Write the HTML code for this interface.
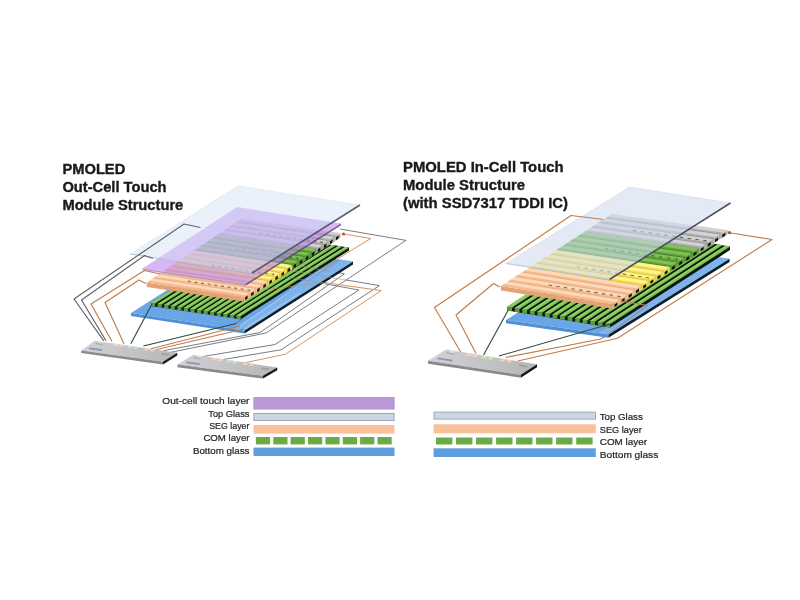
<!DOCTYPE html>
<html><head><meta charset="utf-8"><title>PMOLED touch module structure</title>
<style>
html,body{margin:0;padding:0;background:#fff;}
body{width:800px;height:600px;overflow:hidden;position:relative;font-family:"Liberation Sans",sans-serif;}
svg text{font-family:"Liberation Sans",sans-serif;}
</style></head><body>
<svg width="800" height="600" viewBox="0 0 800 600" style="position:absolute;left:0;top:0">
<defs><filter id="soft" x="0" y="0" width="800" height="600" filterUnits="userSpaceOnUse"><feGaussianBlur stdDeviation="0.45"/></filter><filter id="soft2" x="0" y="0" width="800" height="600" filterUnits="userSpaceOnUse"><feGaussianBlur stdDeviation="0.3"/></filter><linearGradient id="chipg" x1="0" y1="0" x2="1" y2="0"><stop offset="0" stop-color="#d2d2d6"/><stop offset="1" stop-color="#b6b6b8"/></linearGradient></defs>
<g id="leftd" filter="url(#soft)">
<polyline points="169.7,352.5 266.0,333.0 406.0,240.4 340.0,229.0" fill="none" stroke="#7c7c82" stroke-width="1.0" stroke-linejoin="round" stroke-miterlimit="10"/>
<polyline points="164.0,350.6 260.0,332.5 344.4,273.8 330.0,271.3" fill="none" stroke="#7c7c82" stroke-width="1.0" stroke-linejoin="round" />
<polyline points="198.8,357.2 275.0,344.5 358.8,290.0 325.0,283.8" fill="none" stroke="#7c7c82" stroke-width="1.0" stroke-linejoin="round" />
<polyline points="220.3,360.0 281.0,349.8 379.4,285.6 346.2,280.0" fill="none" stroke="#7c7c82" stroke-width="1.0" stroke-linejoin="round" />
<polyline points="240.0,363.8 285.5,354.2 381.2,290.6 323.8,282.5" fill="none" stroke="#d39460" stroke-width="1.0" stroke-linejoin="round" />
<polygon points="131.0,313.0 244.5,330.5 353.0,261.5 239.5,244.0" fill="#6aa6e6" />
<polygon points="131.0,313.0 244.5,330.5 244.5,333.5 131.0,316.0" fill="#4f8fd6" />
<polygon points="244.5,330.5 353.0,261.5 353.0,264.5 244.5,333.5" fill="#0f1a2a" />
<polygon points="233.2,328.8 244.5,330.5 353.0,261.5 341.6,259.8" fill="#8cbcf0" opacity="0.6" />
<polyline points="143.4,346.0 236.0,323.5" fill="none" stroke="#2f4a40" stroke-width="1.15" stroke-linejoin="round" />
<polyline points="236.0,323.5 266.0,299.5" fill="none" stroke="#3d6a7a" stroke-width="0.9" stroke-linejoin="round" opacity="0.8" />
<polyline points="151.0,348.8 240.0,326.0" fill="none" stroke="#c07c49" stroke-width="1.15" stroke-linejoin="round" />
<polyline points="240.0,326.0 322.0,269.5" fill="none" stroke="#b9d2f0" stroke-width="1.0" stroke-linejoin="round" opacity="0.85" />
<polyline points="322.0,269.5 346.0,253.5 370.8,238.5 343.8,234.0" fill="none" stroke="#d39460" stroke-width="1.0" stroke-linejoin="round" />
<polyline points="155.6,349.7 244.0,329.0" fill="none" stroke="#c07c49" stroke-width="1.15" stroke-linejoin="round" />
<polyline points="244.0,329.0 300.0,293.0" fill="none" stroke="#b9d2f0" stroke-width="1.0" stroke-linejoin="round" opacity="0.85" />
<polygon points="151.0,303.0 240.5,316.2 349.0,247.5 259.5,234.2" fill="#11180d" />
<polygon points="151.0,303.0 240.5,316.2 240.5,319.2 151.0,306.0" fill="#11180d" />
<polygon points="240.5,316.2 349.0,247.5 349.0,250.5 240.5,319.2" fill="#11180d" />
<polygon points="151.0,303.0 155.1,303.6 263.6,234.9 259.5,234.2" fill="#7cc353" />
<polygon points="151.0,303.0 153.3,303.3 261.8,234.6 259.5,234.2" fill="#8fd265" />
<polygon points="151.0,303.0 155.1,303.6 155.1,306.6 151.0,306.0" fill="#5b9f3d" />
<polygon points="157.6,304.0 161.7,304.6 270.2,235.8 266.1,235.2" fill="#7cc353" />
<polygon points="157.6,304.0 159.8,304.3 268.3,235.6 266.1,235.2" fill="#8fd265" />
<polygon points="157.6,304.0 161.7,304.6 161.7,307.6 157.6,307.0" fill="#5b9f3d" />
<polygon points="164.1,304.9 168.3,305.6 276.8,236.8 272.6,236.2" fill="#7cc353" />
<polygon points="164.1,304.9 166.4,305.3 274.9,236.5 272.6,236.2" fill="#8fd265" />
<polygon points="164.1,304.9 168.3,305.6 168.3,308.6 164.1,307.9" fill="#5b9f3d" />
<polygon points="170.7,305.9 174.8,306.5 283.3,237.8 279.2,237.2" fill="#7cc353" />
<polygon points="170.7,305.9 173.0,306.3 281.5,237.5 279.2,237.2" fill="#8fd265" />
<polygon points="170.7,305.9 174.8,306.5 174.8,309.5 170.7,308.9" fill="#5b9f3d" />
<polygon points="177.3,306.9 181.4,307.5 289.9,238.8 285.8,238.1" fill="#7cc353" />
<polygon points="177.3,306.9 179.5,307.2 288.0,238.5 285.8,238.1" fill="#8fd265" />
<polygon points="177.3,306.9 181.4,307.5 181.4,310.5 177.3,309.9" fill="#5b9f3d" />
<polygon points="183.8,307.9 188.0,308.5 296.5,239.7 292.3,239.1" fill="#7cc353" />
<polygon points="183.8,307.9 186.1,308.2 294.6,239.4 292.3,239.1" fill="#8fd265" />
<polygon points="183.8,307.9 188.0,308.5 188.0,311.5 183.8,310.9" fill="#5b9f3d" />
<polygon points="190.4,308.8 194.5,309.4 303.0,240.7 298.9,240.1" fill="#7cc353" />
<polygon points="190.4,308.8 192.7,309.2 301.2,240.4 298.9,240.1" fill="#8fd265" />
<polygon points="190.4,308.8 194.5,309.4 194.5,312.4 190.4,311.8" fill="#5b9f3d" />
<polygon points="197.0,309.8 201.1,310.4 309.6,241.7 305.5,241.1" fill="#7cc353" />
<polygon points="197.0,309.8 199.2,310.1 307.7,241.4 305.5,241.1" fill="#8fd265" />
<polygon points="197.0,309.8 201.1,310.4 201.1,313.4 197.0,312.8" fill="#5b9f3d" />
<polygon points="203.5,310.8 207.7,311.4 316.2,242.6 312.0,242.0" fill="#7cc353" />
<polygon points="203.5,310.8 205.8,311.1 314.3,242.4 312.0,242.0" fill="#8fd265" />
<polygon points="203.5,310.8 207.7,311.4 207.7,314.4 203.5,313.8" fill="#5b9f3d" />
<polygon points="210.1,311.7 214.2,312.4 322.7,243.6 318.6,243.0" fill="#7cc353" />
<polygon points="210.1,311.7 212.4,312.1 320.9,243.3 318.6,243.0" fill="#8fd265" />
<polygon points="210.1,311.7 214.2,312.4 214.2,315.4 210.1,314.7" fill="#5b9f3d" />
<polygon points="216.7,312.7 220.8,313.3 329.3,244.6 325.2,244.0" fill="#7cc353" />
<polygon points="216.7,312.7 218.9,313.1 327.4,244.3 325.2,244.0" fill="#8fd265" />
<polygon points="216.7,312.7 220.8,313.3 220.8,316.3 216.7,315.7" fill="#5b9f3d" />
<polygon points="223.2,313.7 227.4,314.3 335.9,245.6 331.7,244.9" fill="#7cc353" />
<polygon points="223.2,313.7 225.5,314.0 334.0,245.3 331.7,244.9" fill="#8fd265" />
<polygon points="223.2,313.7 227.4,314.3 227.4,317.3 223.2,316.7" fill="#5b9f3d" />
<polygon points="229.8,314.7 233.9,315.3 342.4,246.5 338.3,245.9" fill="#7cc353" />
<polygon points="229.8,314.7 232.1,315.0 340.6,246.3 338.3,245.9" fill="#8fd265" />
<polygon points="229.8,314.7 233.9,315.3 233.9,318.3 229.8,317.7" fill="#5b9f3d" />
<polygon points="236.4,315.6 240.5,316.2 349.0,247.5 344.9,246.9" fill="#7cc353" />
<polygon points="236.4,315.6 238.6,316.0 347.1,247.2 344.9,246.9" fill="#8fd265" />
<polygon points="236.4,315.6 240.5,316.2 240.5,319.2 236.4,318.6" fill="#5b9f3d" />
<polygon points="235.6,222.5 334.4,237.0 334.4,241.5 235.6,227.0" fill="#7e7e7e" />
<polygon points="334.4,237.0 340.5,233.0 340.5,237.5 334.4,241.5" fill="#adadad" />
<polygon points="336.0,237.3 338.6,235.6 338.6,238.5 336.0,240.2" fill="#17130f" />
<polygon points="235.6,222.5 334.4,237.0 340.5,233.0 241.5,218.5" fill="#d2d2d2" />
<polygon points="235.6,222.5 334.4,237.0 337.0,235.3 238.1,220.8" fill="#adadad" />
<polygon points="235.6,222.5 334.4,237.0 335.2,236.5 236.3,222.0" fill="#7e7e7e" opacity="0.75" />
<polygon points="229.7,226.5 328.4,241.0 328.4,245.5 229.7,231.0" fill="#7e7e7e" />
<polygon points="328.4,241.0 334.4,237.0 334.4,241.5 328.4,245.5" fill="#adadad" />
<polygon points="330.0,241.3 332.5,239.6 332.5,242.5 330.0,244.2" fill="#17130f" />
<polygon points="229.7,226.5 328.4,241.0 334.4,237.0 235.6,222.5" fill="#d2d2d2" />
<polygon points="229.7,226.5 328.4,241.0 330.9,239.3 232.1,224.8" fill="#adadad" />
<polygon points="229.7,226.5 328.4,241.0 329.1,240.5 230.4,226.0" fill="#7e7e7e" opacity="0.75" />
<polygon points="223.7,230.5 322.3,245.0 322.3,249.5 223.7,235.0" fill="#7e7e7e" />
<polygon points="322.3,245.0 328.4,241.0 328.4,245.5 322.3,249.5" fill="#adadad" />
<polygon points="323.9,245.3 326.4,243.6 326.4,246.5 323.9,248.2" fill="#17130f" />
<polygon points="223.7,230.5 322.3,245.0 328.4,241.0 229.7,226.5" fill="#d2d2d2" />
<polygon points="223.7,230.5 322.3,245.0 324.9,243.3 226.2,228.8" fill="#adadad" />
<polygon points="223.7,230.5 322.3,245.0 323.0,244.5 224.4,230.0" fill="#7e7e7e" opacity="0.75" />
<polyline points="259.5,233.1 262.5,233.5" fill="none" stroke="#2e3a2a" stroke-width="1.1" stroke-linejoin="round" opacity="0.7" />
<polyline points="266.3,234.1 269.2,234.5" fill="none" stroke="#2e3a2a" stroke-width="1.1" stroke-linejoin="round" opacity="0.7" />
<polyline points="273.0,235.1 275.9,235.5" fill="none" stroke="#2e3a2a" stroke-width="1.1" stroke-linejoin="round" opacity="0.7" />
<polyline points="279.7,236.0 282.6,236.5" fill="none" stroke="#2e3a2a" stroke-width="1.1" stroke-linejoin="round" opacity="0.7" />
<polyline points="286.4,237.0 289.3,237.5" fill="none" stroke="#2e3a2a" stroke-width="1.1" stroke-linejoin="round" opacity="0.7" />
<polyline points="293.1,238.0 296.1,238.4" fill="none" stroke="#2e3a2a" stroke-width="1.1" stroke-linejoin="round" opacity="0.7" />
<polyline points="299.8,239.0 302.8,239.4" fill="none" stroke="#2e3a2a" stroke-width="1.1" stroke-linejoin="round" opacity="0.7" />
<polyline points="306.5,240.0 309.5,240.4" fill="none" stroke="#2e3a2a" stroke-width="1.1" stroke-linejoin="round" opacity="0.7" />
<polyline points="313.2,241.0 316.2,241.4" fill="none" stroke="#2e3a2a" stroke-width="1.1" stroke-linejoin="round" opacity="0.7" />
<polyline points="319.9,242.0 322.9,242.4" fill="none" stroke="#2e3a2a" stroke-width="1.1" stroke-linejoin="round" opacity="0.7" />
<polygon points="217.8,234.5 316.2,249.0 316.2,253.5 217.8,239.0" fill="#7e7e7e" />
<polygon points="316.2,249.0 322.3,245.0 322.3,249.5 316.2,253.5" fill="#adadad" />
<polygon points="317.8,249.3 320.4,247.6 320.4,250.5 317.8,252.2" fill="#17130f" />
<polygon points="217.8,234.5 316.2,249.0 322.3,245.0 223.7,230.5" fill="#d2d2d2" />
<polygon points="217.8,234.5 316.2,249.0 318.8,247.3 220.3,232.8" fill="#adadad" />
<polygon points="217.8,234.5 316.2,249.0 317.0,248.5 218.5,234.0" fill="#7e7e7e" opacity="0.75" />
<polygon points="211.9,238.5 310.2,253.0 310.2,257.5 211.9,243.0" fill="#3c6e28" />
<polygon points="310.2,253.0 316.2,249.0 316.2,253.5 310.2,257.5" fill="#5c9d3d" />
<polygon points="311.8,253.3 314.3,251.6 314.3,254.5 311.8,256.2" fill="#17130f" />
<polygon points="211.9,238.5 310.2,253.0 316.2,249.0 217.8,234.5" fill="#7fc253" />
<polygon points="211.9,238.5 310.2,253.0 312.7,251.3 214.4,236.8" fill="#5c9d3d" />
<polygon points="211.9,238.5 310.2,253.0 310.9,252.5 212.6,238.0" fill="#3c6e28" opacity="0.75" />
<polygon points="206.0,242.5 304.1,257.0 304.1,261.5 206.0,247.0" fill="#3c6e28" />
<polygon points="304.1,257.0 310.2,253.0 310.2,257.5 304.1,261.5" fill="#5c9d3d" />
<polygon points="305.7,257.3 308.2,255.6 308.2,258.5 305.7,260.2" fill="#17130f" />
<polygon points="206.0,242.5 304.1,257.0 310.2,253.0 211.9,238.5" fill="#7fc253" />
<polygon points="206.0,242.5 304.1,257.0 306.7,255.3 208.5,240.8" fill="#5c9d3d" />
<polygon points="206.0,242.5 304.1,257.0 304.9,256.5 206.7,242.0" fill="#3c6e28" opacity="0.75" />
<polygon points="200.0,246.5 298.1,261.0 298.1,265.5 200.0,251.0" fill="#3c6e28" />
<polygon points="298.1,261.0 304.1,257.0 304.1,261.5 298.1,265.5" fill="#5c9d3d" />
<polygon points="299.6,261.3 302.2,259.6 302.2,262.5 299.6,264.2" fill="#17130f" />
<polygon points="200.0,246.5 298.1,261.0 304.1,257.0 206.0,242.5" fill="#7fc253" />
<polygon points="200.0,246.5 298.1,261.0 300.6,259.3 202.5,244.8" fill="#5c9d3d" />
<polygon points="200.0,246.5 298.1,261.0 298.8,260.5 200.8,246.0" fill="#3c6e28" opacity="0.75" />
<polyline points="235.7,249.1 238.6,249.5" fill="none" stroke="#2e3a2a" stroke-width="1.1" stroke-linejoin="round" opacity="0.7" />
<polyline points="242.3,250.1 245.3,250.5" fill="none" stroke="#2e3a2a" stroke-width="1.1" stroke-linejoin="round" opacity="0.7" />
<polyline points="249.0,251.1 252.0,251.5" fill="none" stroke="#2e3a2a" stroke-width="1.1" stroke-linejoin="round" opacity="0.7" />
<polyline points="255.7,252.0 258.6,252.5" fill="none" stroke="#2e3a2a" stroke-width="1.1" stroke-linejoin="round" opacity="0.7" />
<polyline points="262.4,253.0 265.3,253.5" fill="none" stroke="#2e3a2a" stroke-width="1.1" stroke-linejoin="round" opacity="0.7" />
<polyline points="269.0,254.0 272.0,254.4" fill="none" stroke="#2e3a2a" stroke-width="1.1" stroke-linejoin="round" opacity="0.7" />
<polyline points="275.7,255.0 278.6,255.4" fill="none" stroke="#2e3a2a" stroke-width="1.1" stroke-linejoin="round" opacity="0.7" />
<polyline points="282.4,256.0 285.3,256.4" fill="none" stroke="#2e3a2a" stroke-width="1.1" stroke-linejoin="round" opacity="0.7" />
<polyline points="289.0,257.0 292.0,257.4" fill="none" stroke="#2e3a2a" stroke-width="1.1" stroke-linejoin="round" opacity="0.7" />
<polyline points="295.7,258.0 298.7,258.4" fill="none" stroke="#2e3a2a" stroke-width="1.1" stroke-linejoin="round" opacity="0.7" />
<polygon points="194.1,250.5 292.0,265.0 292.0,269.5 194.1,255.0" fill="#3c6e28" />
<polygon points="292.0,265.0 298.1,261.0 298.1,265.5 292.0,269.5" fill="#5c9d3d" />
<polygon points="293.6,265.3 296.1,263.6 296.1,266.5 293.6,268.2" fill="#17130f" />
<polygon points="194.1,250.5 292.0,265.0 298.1,261.0 200.0,246.5" fill="#7fc253" />
<polygon points="194.1,250.5 292.0,265.0 294.5,263.3 196.6,248.8" fill="#5c9d3d" />
<polygon points="194.1,250.5 292.0,265.0 292.7,264.5 194.8,250.0" fill="#3c6e28" opacity="0.75" />
<polygon points="188.2,254.5 285.9,269.0 285.9,273.5 188.2,259.0" fill="#c4aa36" />
<polygon points="285.9,269.0 292.0,265.0 292.0,269.5 285.9,273.5" fill="#f3d94e" />
<polygon points="287.5,269.3 290.1,267.6 290.1,270.5 287.5,272.2" fill="#17130f" />
<polygon points="188.2,254.5 285.9,269.0 292.0,265.0 194.1,250.5" fill="#fff48e" />
<polygon points="188.2,254.5 285.9,269.0 288.5,267.3 190.7,252.8" fill="#f3d94e" />
<polygon points="188.2,254.5 285.9,269.0 286.7,268.5 188.9,254.0" fill="#c4aa36" opacity="0.75" />
<polygon points="182.3,258.5 279.9,273.0 279.9,277.5 182.3,263.0" fill="#c4aa36" />
<polygon points="279.9,273.0 285.9,269.0 285.9,273.5 279.9,277.5" fill="#f3d94e" />
<polygon points="281.5,273.3 284.0,271.6 284.0,274.5 281.5,276.2" fill="#17130f" />
<polygon points="182.3,258.5 279.9,273.0 285.9,269.0 188.2,254.5" fill="#fff48e" />
<polygon points="182.3,258.5 279.9,273.0 282.4,271.3 184.8,256.8" fill="#f3d94e" />
<polygon points="182.3,258.5 279.9,273.0 280.6,272.5 183.0,258.0" fill="#c4aa36" opacity="0.75" />
<polygon points="176.4,262.5 273.8,277.0 273.8,281.5 176.4,267.0" fill="#c4aa36" />
<polygon points="273.8,277.0 279.9,273.0 279.9,277.5 273.8,281.5" fill="#f3d94e" />
<polygon points="275.4,277.3 277.9,275.6 277.9,278.5 275.4,280.2" fill="#17130f" />
<polygon points="176.4,262.5 273.8,277.0 279.9,273.0 182.3,258.5" fill="#fff48e" />
<polygon points="176.4,262.5 273.8,277.0 276.4,275.3 178.8,260.8" fill="#f3d94e" />
<polygon points="176.4,262.5 273.8,277.0 274.5,276.5 177.1,262.0" fill="#c4aa36" opacity="0.75" />
<polyline points="211.8,265.1 214.7,265.5" fill="none" stroke="#4a3a22" stroke-width="1.1" stroke-linejoin="round" opacity="0.7" />
<polyline points="218.4,266.1 221.4,266.5" fill="none" stroke="#4a3a22" stroke-width="1.1" stroke-linejoin="round" opacity="0.7" />
<polyline points="225.1,267.1 228.0,267.5" fill="none" stroke="#4a3a22" stroke-width="1.1" stroke-linejoin="round" opacity="0.7" />
<polyline points="231.7,268.0 234.6,268.5" fill="none" stroke="#4a3a22" stroke-width="1.1" stroke-linejoin="round" opacity="0.7" />
<polyline points="238.3,269.0 241.3,269.5" fill="none" stroke="#4a3a22" stroke-width="1.1" stroke-linejoin="round" opacity="0.7" />
<polyline points="245.0,270.0 247.9,270.4" fill="none" stroke="#4a3a22" stroke-width="1.1" stroke-linejoin="round" opacity="0.7" />
<polyline points="251.6,271.0 254.5,271.4" fill="none" stroke="#4a3a22" stroke-width="1.1" stroke-linejoin="round" opacity="0.7" />
<polyline points="258.2,272.0 261.2,272.4" fill="none" stroke="#4a3a22" stroke-width="1.1" stroke-linejoin="round" opacity="0.7" />
<polyline points="264.9,273.0 267.8,273.4" fill="none" stroke="#4a3a22" stroke-width="1.1" stroke-linejoin="round" opacity="0.7" />
<polyline points="271.5,274.0 274.4,274.4" fill="none" stroke="#4a3a22" stroke-width="1.1" stroke-linejoin="round" opacity="0.7" />
<polygon points="170.4,266.5 267.8,281.0 267.8,285.5 170.4,271.0" fill="#c4aa36" />
<polygon points="267.8,281.0 273.8,277.0 273.8,281.5 267.8,285.5" fill="#f3d94e" />
<polygon points="269.3,281.3 271.9,279.6 271.9,282.5 269.3,284.2" fill="#17130f" />
<polygon points="170.4,266.5 267.8,281.0 273.8,277.0 176.4,262.5" fill="#fff48e" />
<polygon points="170.4,266.5 267.8,281.0 270.3,279.3 172.9,264.8" fill="#f3d94e" />
<polygon points="170.4,266.5 267.8,281.0 268.5,280.5 171.1,266.0" fill="#c4aa36" opacity="0.75" />
<polygon points="164.5,270.5 261.7,285.0 261.7,289.5 164.5,275.0" fill="#e4a274" />
<polygon points="261.7,285.0 267.8,281.0 267.8,285.5 261.7,289.5" fill="#f4b98c" />
<polygon points="263.3,285.3 265.8,283.6 265.8,286.5 263.3,288.2" fill="#17130f" />
<polygon points="164.5,270.5 261.7,285.0 267.8,281.0 170.4,266.5" fill="#fdd9ba" />
<polygon points="164.5,270.5 261.7,285.0 264.2,283.3 167.0,268.8" fill="#f4b98c" />
<polygon points="164.5,270.5 261.7,285.0 262.4,284.5 165.2,270.0" fill="#e4a274" opacity="0.75" />
<polygon points="158.6,274.5 255.6,289.0 255.6,293.5 158.6,279.0" fill="#e4a274" />
<polygon points="255.6,289.0 261.7,285.0 261.7,289.5 255.6,293.5" fill="#f4b98c" />
<polygon points="257.2,289.3 259.7,287.6 259.7,290.5 257.2,292.2" fill="#17130f" />
<polygon points="158.6,274.5 255.6,289.0 261.7,285.0 164.5,270.5" fill="#fdd9ba" />
<polygon points="158.6,274.5 255.6,289.0 258.2,287.3 161.1,272.8" fill="#f4b98c" />
<polygon points="158.6,274.5 255.6,289.0 256.4,288.5 159.3,274.0" fill="#e4a274" opacity="0.75" />
<polygon points="152.7,278.5 249.6,293.0 249.6,297.5 152.7,283.0" fill="#e4a274" />
<polygon points="249.6,293.0 255.6,289.0 255.6,293.5 249.6,297.5" fill="#f4b98c" />
<polygon points="251.1,293.3 253.7,291.6 253.7,294.5 251.1,296.2" fill="#17130f" />
<polygon points="152.7,278.5 249.6,293.0 255.6,289.0 158.6,274.5" fill="#fdd9ba" />
<polygon points="152.7,278.5 249.6,293.0 252.1,291.3 155.2,276.8" fill="#f4b98c" />
<polygon points="152.7,278.5 249.6,293.0 250.3,292.5 153.4,278.0" fill="#e4a274" opacity="0.75" />
<polyline points="187.9,281.1 190.8,281.5" fill="none" stroke="#4a3a22" stroke-width="1.1" stroke-linejoin="round" opacity="0.7" />
<polyline points="194.5,282.1 197.4,282.5" fill="none" stroke="#4a3a22" stroke-width="1.1" stroke-linejoin="round" opacity="0.7" />
<polyline points="201.1,283.1 204.0,283.5" fill="none" stroke="#4a3a22" stroke-width="1.1" stroke-linejoin="round" opacity="0.7" />
<polyline points="207.7,284.0 210.6,284.5" fill="none" stroke="#4a3a22" stroke-width="1.1" stroke-linejoin="round" opacity="0.7" />
<polyline points="214.3,285.0 217.2,285.5" fill="none" stroke="#4a3a22" stroke-width="1.1" stroke-linejoin="round" opacity="0.7" />
<polyline points="220.9,286.0 223.8,286.4" fill="none" stroke="#4a3a22" stroke-width="1.1" stroke-linejoin="round" opacity="0.7" />
<polyline points="227.5,287.0 230.4,287.4" fill="none" stroke="#4a3a22" stroke-width="1.1" stroke-linejoin="round" opacity="0.7" />
<polyline points="234.1,288.0 237.0,288.4" fill="none" stroke="#4a3a22" stroke-width="1.1" stroke-linejoin="round" opacity="0.7" />
<polyline points="240.7,289.0 243.6,289.4" fill="none" stroke="#4a3a22" stroke-width="1.1" stroke-linejoin="round" opacity="0.7" />
<polyline points="247.3,290.0 250.2,290.4" fill="none" stroke="#4a3a22" stroke-width="1.1" stroke-linejoin="round" opacity="0.7" />
<polygon points="146.8,282.5 243.5,297.0 243.5,301.5 146.8,287.0" fill="#e4a274" />
<polygon points="243.5,297.0 249.6,293.0 249.6,297.5 243.5,301.5" fill="#f4b98c" />
<polygon points="245.1,297.3 247.6,295.6 247.6,298.5 245.1,300.2" fill="#17130f" />
<polygon points="146.8,282.5 243.5,297.0 249.6,293.0 152.7,278.5" fill="#fdd9ba" />
<polygon points="146.8,282.5 243.5,297.0 246.0,295.3 149.2,280.8" fill="#f4b98c" />
<circle cx="343.5" cy="234" r="1.6" fill="#b4542a"/>
<polyline points="325.0,283.8 282.0,275.8" fill="none" stroke="#9a8f86" stroke-width="0.8" stroke-linejoin="round" opacity="0.7" />
<polyline points="346.2,280.0 290.0,270.5" fill="none" stroke="#9a8f86" stroke-width="0.8" stroke-linejoin="round" opacity="0.7" />
<polyline points="323.8,282.5 262.0,290.0" fill="none" stroke="#c98a55" stroke-width="0.8" stroke-linejoin="round" opacity="0.7" />
<polyline points="330.0,271.3 300.0,266.0" fill="none" stroke="#9a8f86" stroke-width="0.8" stroke-linejoin="round" opacity="0.7" />
<polygon points="142.5,268.5 245.5,284.0 341.0,223.5 237.0,207.0" fill="#b981ec" opacity="0.58" />
<polygon points="142.5,268.5 245.5,284.0 245.5,285.6 142.5,270.1" fill="#a57fc8" opacity="0.8" />
<polygon points="245.5,284.0 341.0,223.5 341.0,225.2 245.5,285.8" fill="#5a4670" opacity="0.9" />
<polygon points="130.0,254.0 252.0,273.0 360.0,205.0 238.0,186.0" fill="#d3e0f5" stroke="#a9b4cc" stroke-width="0.5" opacity="0.46" />
<polyline points="252.0,273.0 360.0,205.0" fill="none" stroke="#4a4f66" stroke-width="1.6" stroke-linejoin="round" opacity="0.9" />
<polyline points="130.0,254.0 252.0,273.0" fill="none" stroke="#b9c2d8" stroke-width="1.0" stroke-linejoin="round" opacity="0.9" />
<polyline points="200.5,227.5 184.0,224.0 74.0,299.0 103.8,340.8" fill="none" stroke="#606168" stroke-width="1.15" stroke-linejoin="round" />
<polyline points="153.0,258.5 144.5,255.5 81.5,300.0 106.0,340.8" fill="none" stroke="#606168" stroke-width="1.15" stroke-linejoin="round" />
<polyline points="160.0,274.0 144.5,270.5 91.0,304.0 112.0,341.5" fill="none" stroke="#c07c49" stroke-width="1.15" stroke-linejoin="round" />
<polyline points="146.0,283.5 139.0,280.0 105.0,302.5 124.0,343.8" fill="none" stroke="#c07c49" stroke-width="1.15" stroke-linejoin="round" />
<polyline points="152.0,304.0 130.8,343.8" fill="none" stroke="#2f4a40" stroke-width="1.15" stroke-linejoin="round" />
<polygon points="94.8,340.8 81.2,350.5 163.0,361.8 177.2,352.8" fill="url(#chipg)" />
<polygon points="81.2,350.5 163.0,361.8 163.0,364.4 81.2,353.1" fill="#8a8a8c" />
<polygon points="163.0,361.8 177.2,352.8 177.2,355.4 163.0,364.4" fill="#161616" />
<polygon points="99.7,341.5 103.4,342.0 100.7,344.0 97.0,343.4" fill="#dfe9dc" />
<polygon points="115.4,343.8 119.1,344.3 116.4,346.2 112.7,345.7" fill="#f3d6bf" />
<polygon points="121.2,344.6 124.9,345.1 122.2,347.1 118.5,346.5" fill="#f3d6bf" />
<polygon points="129.4,345.8 133.1,346.3 130.4,348.3 126.7,347.7" fill="#c4ecb6" />
<polygon points="135.2,346.6 138.9,347.2 136.2,349.1 132.5,348.6" fill="#c4ecb6" />
<polygon points="145.9,348.2 149.6,348.7 146.9,350.7 143.2,350.1" fill="#f3d6bf" />
<polygon points="151.7,349.0 155.4,349.6 152.7,351.5 149.0,351.0" fill="#f3d6bf" />
<polyline points="89.1,348.3 102.2,350.2" fill="none" stroke="#6f86a8" stroke-width="1.7" stroke-linejoin="round" opacity="0.75" />
<polyline points="161.5,353.8 168.9,354.9" fill="none" stroke="#8a9a8c" stroke-width="1.6" stroke-linejoin="round" opacity="0.7" />
<polyline points="95.9,343.5 102.5,344.4" fill="none" stroke="#8a9a8c" stroke-width="1.6" stroke-linejoin="round" opacity="0.6" />
<polygon points="193.2,354.8 177.5,364.5 263.0,375.8 277.2,367.5" fill="url(#chipg)" />
<polygon points="177.5,364.5 263.0,375.8 263.0,378.6 177.5,367.3" fill="#8a8a8c" />
<polygon points="263.0,375.8 277.2,367.5 277.2,370.3 263.0,378.6" fill="#161616" />
<polygon points="198.3,355.5 202.1,356.1 198.9,358.0 195.1,357.5" fill="#dfe9dc" />
<polygon points="214.2,357.9 218.0,358.5 214.9,360.5 211.1,359.9" fill="#f3d6bf" />
<polygon points="220.1,358.8 223.9,359.4 220.8,361.4 217.0,360.8" fill="#f3d6bf" />
<polygon points="228.5,360.1 232.3,360.7 229.2,362.6 225.4,362.1" fill="#c4ecb6" />
<polygon points="234.4,361.0 238.2,361.6 235.0,363.5 231.3,362.9" fill="#c4ecb6" />
<polygon points="245.3,362.7 249.1,363.2 246.0,365.2 242.2,364.6" fill="#f3d6bf" />
<polygon points="251.2,363.5 255.0,364.1 251.8,366.1 248.1,365.5" fill="#f3d6bf" />
<polyline points="186.2,362.4 199.8,364.2" fill="none" stroke="#6f86a8" stroke-width="1.7" stroke-linejoin="round" opacity="0.75" />
<polyline points="261.2,368.3 268.8,369.4" fill="none" stroke="#8a9a8c" stroke-width="1.6" stroke-linejoin="round" opacity="0.7" />
<polyline points="194.0,357.5 200.7,358.5" fill="none" stroke="#8a9a8c" stroke-width="1.6" stroke-linejoin="round" opacity="0.6" />
</g>
<g id="rightd" filter="url(#soft)">
<polyline points="517.8,361.0 617.5,338.2 772.0,239.5 728.0,232.5" fill="none" stroke="#c07c49" stroke-width="1.15" stroke-linejoin="round" />
<polyline points="505.5,357.5 601.0,339.0 608.0,334.5" fill="none" stroke="#c07c49" stroke-width="1.15" stroke-linejoin="round" />
<polygon points="506.0,320.0 608.5,334.5 729.5,258.7 627.0,244.2" fill="#6aa6e6" />
<polygon points="506.0,320.0 608.5,334.5 608.5,337.8 506.0,323.3" fill="#4f8fd6" />
<polygon points="608.5,334.5 729.5,258.7 729.5,262.0 608.5,337.8" fill="#0f1a2a" />
<polygon points="598.2,333.1 608.5,334.5 729.5,258.7 719.2,257.2" fill="#8cbcf0" opacity="0.6" />
<polygon points="507.2,306.8 610.0,324.0 730.0,246.5 627.2,229.3" fill="#11180d" />
<polygon points="507.2,306.8 610.0,324.0 610.0,327.6 507.2,310.4" fill="#11180d" />
<polygon points="610.0,324.0 730.0,246.5 730.0,250.1 610.0,327.6" fill="#11180d" />
<polygon points="507.2,306.8 512.0,307.6 632.0,230.1 627.2,229.3" fill="#7cc353" />
<polygon points="507.2,306.8 509.9,307.2 629.9,229.7 627.2,229.3" fill="#8fd265" />
<polygon points="507.2,306.8 512.0,307.6 512.0,311.2 507.2,310.4" fill="#5b9f3d" />
<polygon points="514.8,308.1 519.5,308.9 639.5,231.4 634.8,230.6" fill="#7cc353" />
<polygon points="514.8,308.1 517.4,308.5 637.4,231.0 634.8,230.6" fill="#8fd265" />
<polygon points="514.8,308.1 519.5,308.9 519.5,312.5 514.8,311.7" fill="#5b9f3d" />
<polygon points="522.3,309.3 527.1,310.1 647.1,232.6 642.3,231.8" fill="#7cc353" />
<polygon points="522.3,309.3 524.9,309.8 644.9,232.3 642.3,231.8" fill="#8fd265" />
<polygon points="522.3,309.3 527.1,310.1 527.1,313.7 522.3,312.9" fill="#5b9f3d" />
<polygon points="529.9,310.6 534.6,311.4 654.6,233.9 649.9,233.1" fill="#7cc353" />
<polygon points="529.9,310.6 532.5,311.0 652.5,233.5 649.9,233.1" fill="#8fd265" />
<polygon points="529.9,310.6 534.6,311.4 534.6,315.0 529.9,314.2" fill="#5b9f3d" />
<polygon points="537.4,311.8 542.2,312.6 662.2,235.1 657.4,234.3" fill="#7cc353" />
<polygon points="537.4,311.8 540.0,312.3 660.0,234.8 657.4,234.3" fill="#8fd265" />
<polygon points="537.4,311.8 542.2,312.6 542.2,316.2 537.4,315.4" fill="#5b9f3d" />
<polygon points="544.9,313.1 549.7,313.9 669.7,236.4 664.9,235.6" fill="#7cc353" />
<polygon points="544.9,313.1 547.6,313.5 667.6,236.0 664.9,235.6" fill="#8fd265" />
<polygon points="544.9,313.1 549.7,313.9 549.7,317.5 544.9,316.7" fill="#5b9f3d" />
<polygon points="552.5,314.4 557.2,315.2 677.2,237.7 672.5,236.9" fill="#7cc353" />
<polygon points="552.5,314.4 555.1,314.8 675.1,237.3 672.5,236.9" fill="#8fd265" />
<polygon points="552.5,314.4 557.2,315.2 557.2,318.8 552.5,318.0" fill="#5b9f3d" />
<polygon points="560.0,315.6 564.8,316.4 684.8,238.9 680.0,238.1" fill="#7cc353" />
<polygon points="560.0,315.6 562.6,316.1 682.6,238.6 680.0,238.1" fill="#8fd265" />
<polygon points="560.0,315.6 564.8,316.4 564.8,320.0 560.0,319.2" fill="#5b9f3d" />
<polygon points="567.6,316.9 572.3,317.7 692.3,240.2 687.6,239.4" fill="#7cc353" />
<polygon points="567.6,316.9 570.2,317.3 690.2,239.8 687.6,239.4" fill="#8fd265" />
<polygon points="567.6,316.9 572.3,317.7 572.3,321.3 567.6,320.5" fill="#5b9f3d" />
<polygon points="575.1,318.2 579.8,319.0 699.8,241.5 695.1,240.7" fill="#7cc353" />
<polygon points="575.1,318.2 577.7,318.6 697.7,241.1 695.1,240.7" fill="#8fd265" />
<polygon points="575.1,318.2 579.8,319.0 579.8,322.6 575.1,321.8" fill="#5b9f3d" />
<polygon points="582.6,319.4 587.4,320.2 707.4,242.7 702.6,241.9" fill="#7cc353" />
<polygon points="582.6,319.4 585.2,319.9 705.2,242.4 702.6,241.9" fill="#8fd265" />
<polygon points="582.6,319.4 587.4,320.2 587.4,323.8 582.6,323.0" fill="#5b9f3d" />
<polygon points="590.2,320.7 594.9,321.5 714.9,244.0 710.2,243.2" fill="#7cc353" />
<polygon points="590.2,320.7 592.8,321.1 712.8,243.6 710.2,243.2" fill="#8fd265" />
<polygon points="590.2,320.7 594.9,321.5 594.9,325.1 590.2,324.3" fill="#5b9f3d" />
<polygon points="597.7,321.9 602.5,322.7 722.5,245.2 717.7,244.4" fill="#7cc353" />
<polygon points="597.7,321.9 600.3,322.4 720.3,244.9 717.7,244.4" fill="#8fd265" />
<polygon points="597.7,321.9 602.5,322.7 602.5,326.3 597.7,325.5" fill="#5b9f3d" />
<polygon points="605.3,323.2 610.0,324.0 730.0,246.5 725.3,245.7" fill="#7cc353" />
<polygon points="605.3,323.2 607.9,323.6 727.9,246.1 725.3,245.7" fill="#8fd265" />
<polygon points="605.3,323.2 610.0,324.0 610.0,327.6 605.3,326.8" fill="#5b9f3d" />
<polygon points="605.1,218.5 720.3,234.6 720.3,239.1 605.1,223.0" fill="#7e7e7e" />
<polygon points="720.3,234.6 727.5,230.0 727.5,234.5 720.3,239.1" fill="#adadad" />
<polygon points="722.2,234.7 725.2,232.8 725.2,235.7 722.2,237.6" fill="#17130f" />
<polygon points="605.1,218.5 720.3,234.6 727.5,230.0 612.0,214.0" fill="#d2d2d2" />
<polygon points="605.1,218.5 720.3,234.6 723.3,232.7 608.0,216.6" fill="#adadad" />
<polygon points="605.1,218.5 720.3,234.6 721.2,234.1 605.9,218.0" fill="#7e7e7e" opacity="0.75" />
<polygon points="598.1,223.0 713.1,239.3 713.1,243.8 598.1,227.5" fill="#7e7e7e" />
<polygon points="713.1,239.3 720.3,234.6 720.3,239.1 713.1,243.8" fill="#adadad" />
<polygon points="715.0,239.4 718.0,237.4 718.0,240.3 715.0,242.3" fill="#17130f" />
<polygon points="598.1,223.0 713.1,239.3 720.3,234.6 605.1,218.5" fill="#d2d2d2" />
<polygon points="598.1,223.0 713.1,239.3 716.1,237.3 601.0,221.1" fill="#adadad" />
<polygon points="598.1,223.0 713.1,239.3 714.0,238.7 599.0,222.5" fill="#7e7e7e" opacity="0.75" />
<polygon points="591.2,227.5 705.9,243.9 705.9,248.4 591.2,232.0" fill="#7e7e7e" />
<polygon points="705.9,243.9 713.1,239.3 713.1,243.8 705.9,248.4" fill="#adadad" />
<polygon points="707.8,244.0 710.8,242.1 710.8,245.0 707.8,246.9" fill="#17130f" />
<polygon points="591.2,227.5 705.9,243.9 713.1,239.3 598.1,223.0" fill="#d2d2d2" />
<polygon points="591.2,227.5 705.9,243.9 709.0,242.0 594.1,225.6" fill="#adadad" />
<polygon points="591.2,227.5 705.9,243.9 706.8,243.4 592.0,227.0" fill="#7e7e7e" opacity="0.75" />
<polyline points="632.9,230.4 636.4,230.9" fill="none" stroke="#2e3a2a" stroke-width="1.1" stroke-linejoin="round" opacity="0.7" />
<polyline points="640.7,231.5 644.2,232.0" fill="none" stroke="#2e3a2a" stroke-width="1.1" stroke-linejoin="round" opacity="0.7" />
<polyline points="648.5,232.6 652.0,233.1" fill="none" stroke="#2e3a2a" stroke-width="1.1" stroke-linejoin="round" opacity="0.7" />
<polyline points="656.4,233.8 659.8,234.2" fill="none" stroke="#2e3a2a" stroke-width="1.1" stroke-linejoin="round" opacity="0.7" />
<polyline points="664.2,234.9 667.6,235.4" fill="none" stroke="#2e3a2a" stroke-width="1.1" stroke-linejoin="round" opacity="0.7" />
<polyline points="672.0,236.0 675.4,236.5" fill="none" stroke="#2e3a2a" stroke-width="1.1" stroke-linejoin="round" opacity="0.7" />
<polyline points="679.8,237.1 683.2,237.6" fill="none" stroke="#2e3a2a" stroke-width="1.1" stroke-linejoin="round" opacity="0.7" />
<polyline points="687.6,238.2 691.0,238.7" fill="none" stroke="#2e3a2a" stroke-width="1.1" stroke-linejoin="round" opacity="0.7" />
<polyline points="695.4,239.3 698.9,239.8" fill="none" stroke="#2e3a2a" stroke-width="1.1" stroke-linejoin="round" opacity="0.7" />
<polyline points="703.2,240.4 706.7,240.9" fill="none" stroke="#2e3a2a" stroke-width="1.1" stroke-linejoin="round" opacity="0.7" />
<polygon points="584.2,232.0 698.8,248.6 698.8,253.1 584.2,236.5" fill="#7e7e7e" />
<polygon points="698.8,248.6 705.9,243.9 705.9,248.4 698.8,253.1" fill="#adadad" />
<polygon points="700.6,248.7 703.6,246.7 703.6,249.6 700.6,251.6" fill="#17130f" />
<polygon points="584.2,232.0 698.8,248.6 705.9,243.9 591.2,227.5" fill="#d2d2d2" />
<polygon points="584.2,232.0 698.8,248.6 701.8,246.6 587.2,230.1" fill="#adadad" />
<polygon points="584.2,232.0 698.8,248.6 699.6,248.0 585.1,231.5" fill="#7e7e7e" opacity="0.75" />
<polygon points="577.3,236.5 691.6,253.2 691.6,257.7 577.3,241.0" fill="#3c6e28" />
<polygon points="691.6,253.2 698.8,248.6 698.8,253.1 691.6,257.7" fill="#5c9d3d" />
<polygon points="693.4,253.3 696.5,251.4 696.5,254.3 693.4,256.2" fill="#17130f" />
<polygon points="577.3,236.5 691.6,253.2 698.8,248.6 584.2,232.0" fill="#7fc253" />
<polygon points="577.3,236.5 691.6,253.2 694.6,251.3 580.2,234.6" fill="#5c9d3d" />
<polygon points="577.3,236.5 691.6,253.2 692.4,252.7 578.1,236.0" fill="#3c6e28" opacity="0.75" />
<polygon points="570.4,241.0 684.4,257.9 684.4,262.4 570.4,245.5" fill="#3c6e28" />
<polygon points="684.4,257.9 691.6,253.2 691.6,257.7 684.4,262.4" fill="#5c9d3d" />
<polygon points="686.2,258.0 689.3,256.0 689.3,258.9 686.2,260.9" fill="#17130f" />
<polygon points="570.4,241.0 684.4,257.9 691.6,253.2 577.3,236.5" fill="#7fc253" />
<polygon points="570.4,241.0 684.4,257.9 687.4,255.9 573.3,239.1" fill="#5c9d3d" />
<polygon points="570.4,241.0 684.4,257.9 685.2,257.3 571.2,240.5" fill="#3c6e28" opacity="0.75" />
<polygon points="563.4,245.5 677.2,262.5 677.2,267.0 563.4,250.0" fill="#3c6e28" />
<polygon points="677.2,262.5 684.4,257.9 684.4,262.4 677.2,267.0" fill="#5c9d3d" />
<polygon points="679.1,262.6 682.1,260.6 682.1,263.5 679.1,265.5" fill="#17130f" />
<polygon points="563.4,245.5 677.2,262.5 684.4,257.9 570.4,241.0" fill="#7fc253" />
<polygon points="563.4,245.5 677.2,262.5 680.2,260.6 566.4,243.6" fill="#5c9d3d" />
<polygon points="563.4,245.5 677.2,262.5 678.0,261.9 564.3,245.0" fill="#3c6e28" opacity="0.75" />
<polyline points="604.8,248.6 608.3,249.1" fill="none" stroke="#2e3a2a" stroke-width="1.1" stroke-linejoin="round" opacity="0.7" />
<polyline points="612.6,249.8 616.0,250.3" fill="none" stroke="#2e3a2a" stroke-width="1.1" stroke-linejoin="round" opacity="0.7" />
<polyline points="620.3,250.9 623.7,251.4" fill="none" stroke="#2e3a2a" stroke-width="1.1" stroke-linejoin="round" opacity="0.7" />
<polyline points="628.1,252.1 631.5,252.6" fill="none" stroke="#2e3a2a" stroke-width="1.1" stroke-linejoin="round" opacity="0.7" />
<polyline points="635.8,253.2 639.2,253.7" fill="none" stroke="#2e3a2a" stroke-width="1.1" stroke-linejoin="round" opacity="0.7" />
<polyline points="643.6,254.4 647.0,254.9" fill="none" stroke="#2e3a2a" stroke-width="1.1" stroke-linejoin="round" opacity="0.7" />
<polyline points="651.3,255.5 654.7,256.0" fill="none" stroke="#2e3a2a" stroke-width="1.1" stroke-linejoin="round" opacity="0.7" />
<polyline points="659.0,256.7 662.5,257.2" fill="none" stroke="#2e3a2a" stroke-width="1.1" stroke-linejoin="round" opacity="0.7" />
<polyline points="666.8,257.8 670.2,258.3" fill="none" stroke="#2e3a2a" stroke-width="1.1" stroke-linejoin="round" opacity="0.7" />
<polyline points="674.5,259.0 678.0,259.5" fill="none" stroke="#2e3a2a" stroke-width="1.1" stroke-linejoin="round" opacity="0.7" />
<polygon points="556.5,250.0 670.0,267.1 670.0,271.6 556.5,254.5" fill="#3c6e28" />
<polygon points="670.0,267.1 677.2,262.5 677.2,267.0 670.0,271.6" fill="#5c9d3d" />
<polygon points="671.9,267.2 674.9,265.3 674.9,268.2 671.9,270.1" fill="#17130f" />
<polygon points="556.5,250.0 670.0,267.1 677.2,262.5 563.4,245.5" fill="#7fc253" />
<polygon points="556.5,250.0 670.0,267.1 673.0,265.2 559.4,248.1" fill="#5c9d3d" />
<polygon points="556.5,250.0 670.0,267.1 670.9,266.6 557.3,249.5" fill="#3c6e28" opacity="0.75" />
<polygon points="549.6,254.5 662.8,271.8 662.8,276.3 549.6,259.0" fill="#c4aa36" />
<polygon points="662.8,271.8 670.0,267.1 670.0,271.6 662.8,276.3" fill="#f3d94e" />
<polygon points="664.7,271.9 667.7,269.9 667.7,272.8 664.7,274.8" fill="#17130f" />
<polygon points="549.6,254.5 662.8,271.8 670.0,267.1 556.5,250.0" fill="#fff48e" />
<polygon points="549.6,254.5 662.8,271.8 665.8,269.8 552.5,252.6" fill="#f3d94e" />
<polygon points="549.6,254.5 662.8,271.8 663.7,271.2 550.4,254.0" fill="#c4aa36" opacity="0.75" />
<polygon points="542.6,259.0 655.6,276.4 655.6,280.9 542.6,263.5" fill="#c4aa36" />
<polygon points="655.6,276.4 662.8,271.8 662.8,276.3 655.6,280.9" fill="#f3d94e" />
<polygon points="657.5,276.5 660.5,274.6 660.5,277.5 657.5,279.4" fill="#17130f" />
<polygon points="542.6,259.0 655.6,276.4 662.8,271.8 549.6,254.5" fill="#fff48e" />
<polygon points="542.6,259.0 655.6,276.4 658.6,274.5 545.5,257.1" fill="#f3d94e" />
<polygon points="542.6,259.0 655.6,276.4 656.5,275.9 543.5,258.5" fill="#c4aa36" opacity="0.75" />
<polygon points="535.7,263.5 648.4,281.1 648.4,285.6 535.7,268.0" fill="#c4aa36" />
<polygon points="648.4,281.1 655.6,276.4 655.6,280.9 648.4,285.6" fill="#f3d94e" />
<polygon points="650.3,281.2 653.3,279.2 653.3,282.1 650.3,284.1" fill="#17130f" />
<polygon points="535.7,263.5 648.4,281.1 655.6,276.4 542.6,259.0" fill="#fff48e" />
<polygon points="535.7,263.5 648.4,281.1 651.5,279.1 538.6,261.6" fill="#f3d94e" />
<polygon points="535.7,263.5 648.4,281.1 649.3,280.5 536.5,263.0" fill="#c4aa36" opacity="0.75" />
<polyline points="576.8,266.8 580.1,267.3" fill="none" stroke="#4a3a22" stroke-width="1.1" stroke-linejoin="round" opacity="0.7" />
<polyline points="584.4,268.0 587.8,268.5" fill="none" stroke="#4a3a22" stroke-width="1.1" stroke-linejoin="round" opacity="0.7" />
<polyline points="592.1,269.2 595.5,269.7" fill="none" stroke="#4a3a22" stroke-width="1.1" stroke-linejoin="round" opacity="0.7" />
<polyline points="599.8,270.4 603.2,270.9" fill="none" stroke="#4a3a22" stroke-width="1.1" stroke-linejoin="round" opacity="0.7" />
<polyline points="607.5,271.6 610.8,272.1" fill="none" stroke="#4a3a22" stroke-width="1.1" stroke-linejoin="round" opacity="0.7" />
<polyline points="615.1,272.8 618.5,273.3" fill="none" stroke="#4a3a22" stroke-width="1.1" stroke-linejoin="round" opacity="0.7" />
<polyline points="622.8,273.9 626.2,274.5" fill="none" stroke="#4a3a22" stroke-width="1.1" stroke-linejoin="round" opacity="0.7" />
<polyline points="630.5,275.1 633.9,275.7" fill="none" stroke="#4a3a22" stroke-width="1.1" stroke-linejoin="round" opacity="0.7" />
<polyline points="638.2,276.3 641.6,276.8" fill="none" stroke="#4a3a22" stroke-width="1.1" stroke-linejoin="round" opacity="0.7" />
<polyline points="645.8,277.5 649.2,278.0" fill="none" stroke="#4a3a22" stroke-width="1.1" stroke-linejoin="round" opacity="0.7" />
<polygon points="528.8,268.0 641.2,285.7 641.2,290.2 528.8,272.5" fill="#c4aa36" />
<polygon points="641.2,285.7 648.4,281.1 648.4,285.6 641.2,290.2" fill="#f3d94e" />
<polygon points="643.1,285.8 646.1,283.9 646.1,286.8 643.1,288.7" fill="#17130f" />
<polygon points="528.8,268.0 641.2,285.7 648.4,281.1 535.7,263.5" fill="#fff48e" />
<polygon points="528.8,268.0 641.2,285.7 644.3,283.8 531.7,266.1" fill="#f3d94e" />
<polygon points="528.8,268.0 641.2,285.7 642.1,285.2 529.6,267.5" fill="#c4aa36" opacity="0.75" />
<polygon points="521.8,272.5 634.1,290.4 634.1,294.9 521.8,277.0" fill="#e4a274" />
<polygon points="634.1,290.4 641.2,285.7 641.2,290.2 634.1,294.9" fill="#f4b98c" />
<polygon points="635.9,290.5 639.0,288.5 639.0,291.4 635.9,293.4" fill="#17130f" />
<polygon points="521.8,272.5 634.1,290.4 641.2,285.7 528.8,268.0" fill="#fdd9ba" />
<polygon points="521.8,272.5 634.1,290.4 637.1,288.4 524.7,270.6" fill="#f4b98c" />
<polygon points="521.8,272.5 634.1,290.4 634.9,289.8 522.6,272.0" fill="#e4a274" opacity="0.75" />
<polygon points="514.9,277.0 626.9,295.0 626.9,299.5 514.9,281.5" fill="#e4a274" />
<polygon points="626.9,295.0 634.1,290.4 634.1,294.9 626.9,299.5" fill="#f4b98c" />
<polygon points="628.7,295.1 631.8,293.2 631.8,296.1 628.7,298.0" fill="#17130f" />
<polygon points="514.9,277.0 626.9,295.0 634.1,290.4 521.8,272.5" fill="#fdd9ba" />
<polygon points="514.9,277.0 626.9,295.0 629.9,293.1 517.8,275.1" fill="#f4b98c" />
<polygon points="514.9,277.0 626.9,295.0 627.7,294.5 515.7,276.5" fill="#e4a274" opacity="0.75" />
<polygon points="507.9,281.5 619.7,299.7 619.7,304.2 507.9,286.0" fill="#e4a274" />
<polygon points="619.7,299.7 626.9,295.0 626.9,299.5 619.7,304.2" fill="#f4b98c" />
<polygon points="621.6,299.7 624.6,297.8 624.6,300.7 621.6,302.6" fill="#17130f" />
<polygon points="507.9,281.5 619.7,299.7 626.9,295.0 514.9,277.0" fill="#fdd9ba" />
<polygon points="507.9,281.5 619.7,299.7 622.7,297.7 510.9,279.6" fill="#f4b98c" />
<polygon points="507.9,281.5 619.7,299.7 620.5,299.1 508.8,281.0" fill="#e4a274" opacity="0.75" />
<polyline points="548.7,285.0 552.0,285.5" fill="none" stroke="#4a3a22" stroke-width="1.1" stroke-linejoin="round" opacity="0.7" />
<polyline points="556.3,286.2 559.6,286.8" fill="none" stroke="#4a3a22" stroke-width="1.1" stroke-linejoin="round" opacity="0.7" />
<polyline points="563.9,287.4 567.2,288.0" fill="none" stroke="#4a3a22" stroke-width="1.1" stroke-linejoin="round" opacity="0.7" />
<polyline points="571.5,288.7 574.9,289.2" fill="none" stroke="#4a3a22" stroke-width="1.1" stroke-linejoin="round" opacity="0.7" />
<polyline points="579.1,289.9 582.5,290.4" fill="none" stroke="#4a3a22" stroke-width="1.1" stroke-linejoin="round" opacity="0.7" />
<polyline points="586.7,291.1 590.1,291.7" fill="none" stroke="#4a3a22" stroke-width="1.1" stroke-linejoin="round" opacity="0.7" />
<polyline points="594.3,292.4 597.7,292.9" fill="none" stroke="#4a3a22" stroke-width="1.1" stroke-linejoin="round" opacity="0.7" />
<polyline points="601.9,293.6 605.3,294.1" fill="none" stroke="#4a3a22" stroke-width="1.1" stroke-linejoin="round" opacity="0.7" />
<polyline points="609.5,294.8 612.9,295.4" fill="none" stroke="#4a3a22" stroke-width="1.1" stroke-linejoin="round" opacity="0.7" />
<polyline points="617.2,296.1 620.5,296.6" fill="none" stroke="#4a3a22" stroke-width="1.1" stroke-linejoin="round" opacity="0.7" />
<polygon points="501.0,286.0 612.5,304.3 612.5,308.8 501.0,290.5" fill="#e4a274" />
<polygon points="612.5,304.3 619.7,299.7 619.7,304.2 612.5,308.8" fill="#f4b98c" />
<polygon points="614.4,304.4 617.4,302.4 617.4,305.3 614.4,307.3" fill="#17130f" />
<polygon points="501.0,286.0 612.5,304.3 619.7,299.7 507.9,281.5" fill="#fdd9ba" />
<polygon points="501.0,286.0 612.5,304.3 615.5,302.3 503.9,284.1" fill="#f4b98c" />
<circle cx="729.5" cy="232.7" r="1.6" fill="#b4542a"/>
<polygon points="506.2,263.5 609.5,279.5 730.5,203.0 629.5,187.0" fill="#cfdaee" stroke="#a9b4cc" stroke-width="0.5" opacity="0.58" />
<polyline points="609.5,279.5 730.5,203.0" fill="none" stroke="#3a3f52" stroke-width="1.5" stroke-linejoin="round" opacity="0.9" />
<polyline points="506.2,263.5 609.5,279.5" fill="none" stroke="#b9c2d8" stroke-width="1.0" stroke-linejoin="round" opacity="0.9" />
<polyline points="499.0,356.0 610.0,324.0" fill="none" stroke="#2f4a40" stroke-width="1.15" stroke-linejoin="round" />
<polyline points="608.0,334.5 647.5,305.5" fill="none" stroke="#8f8a86" stroke-width="1.15" stroke-linejoin="round" opacity="0.8" />
<polyline points="647.5,305.5 621.0,301.0" fill="none" stroke="#c07c49" stroke-width="1.15" stroke-linejoin="round" />
<polyline points="603.5,219.5 571.0,215.5 434.5,307.5 461.0,352.5" fill="none" stroke="#c07c49" stroke-width="1.15" stroke-linejoin="round" />
<polyline points="500.0,287.0 493.5,283.5 456.0,315.0 476.0,353.5" fill="none" stroke="#c07c49" stroke-width="1.15" stroke-linejoin="round" />
<polyline points="508.0,310.5 483.5,355.0" fill="none" stroke="#2f4a40" stroke-width="1.15" stroke-linejoin="round" />
<polygon points="446.0,349.6 428.0,360.8 520.8,374.8 537.0,364.3" fill="url(#chipg)" />
<polygon points="428.0,360.8 520.8,374.8 520.8,377.7 428.0,363.7" fill="#8a8a8c" />
<polygon points="520.8,374.8 537.0,364.3 537.0,367.2 520.8,377.7" fill="#161616" />
<polygon points="451.5,350.5 455.6,351.1 452.0,353.4 447.9,352.7" fill="#dfe9dc" />
<polygon points="468.8,353.3 472.8,353.9 469.2,356.2 465.1,355.5" fill="#f3d6bf" />
<polygon points="475.1,354.3 479.2,355.0 475.6,357.2 471.5,356.5" fill="#f3d6bf" />
<polygon points="484.2,355.8 488.3,356.4 484.7,358.7 480.6,358.0" fill="#c4ecb6" />
<polygon points="490.6,356.8 494.7,357.5 491.1,359.7 487.0,359.0" fill="#c4ecb6" />
<polygon points="502.4,358.7 506.5,359.4 502.9,361.6 498.8,361.0" fill="#f3d6bf" />
<polygon points="508.8,359.7 512.9,360.4 509.3,362.6 505.2,362.0" fill="#f3d6bf" />
<polyline points="437.7,358.4 452.4,360.6" fill="none" stroke="#6f86a8" stroke-width="1.7" stroke-linejoin="round" opacity="0.75" />
<polyline points="519.3,365.4 527.6,366.7" fill="none" stroke="#8a9a8c" stroke-width="1.6" stroke-linejoin="round" opacity="0.7" />
<polyline points="446.6,352.8 453.9,354.0" fill="none" stroke="#8a9a8c" stroke-width="1.6" stroke-linejoin="round" opacity="0.6" />
</g>
<text x="62.4" y="173.8" font-size="14.0" font-weight="bold" text-anchor="start" fill="#1a1a1a" stroke="#1a1a1a" stroke-width="0.35" textLength="62.9" lengthAdjust="spacingAndGlyphs">PMOLED</text>
<text x="62.4" y="191.8" font-size="14.0" font-weight="bold" text-anchor="start" fill="#1a1a1a" stroke="#1a1a1a" stroke-width="0.35" textLength="104.2" lengthAdjust="spacingAndGlyphs">Out-Cell Touch</text>
<text x="62.4" y="209.6" font-size="14.0" font-weight="bold" text-anchor="start" fill="#1a1a1a" stroke="#1a1a1a" stroke-width="0.35" textLength="120.9" lengthAdjust="spacingAndGlyphs">Module Structure</text>
<text x="403" y="172" font-size="14.0" font-weight="bold" text-anchor="start" fill="#1a1a1a" stroke="#1a1a1a" stroke-width="0.35" textLength="160.6" lengthAdjust="spacingAndGlyphs">PMOLED In-Cell Touch</text>
<text x="403" y="190" font-size="14.0" font-weight="bold" text-anchor="start" fill="#1a1a1a" stroke="#1a1a1a" stroke-width="0.35" textLength="122.1" lengthAdjust="spacingAndGlyphs">Module Structure</text>
<text x="403" y="207.7" font-size="14.0" font-weight="bold" text-anchor="start" fill="#1a1a1a" stroke="#1a1a1a" stroke-width="0.35" textLength="165" lengthAdjust="spacingAndGlyphs">(with SSD7317 TDDI IC)</text>
<rect x="253.8" y="397.3" width="140.4" height="11.799999999999978" fill="#bc97d7" stroke="#a888c6" stroke-width="0.6"/>
<rect x="253.9" y="413.4" width="140.2" height="7.2" fill="#cdd6e3" stroke="#8b98ad" stroke-width="0.8"/>
<rect x="253.5" y="425" width="141.0" height="8.600000000000023" fill="#f9c09a"/>
<rect x="255.9" y="437" width="14.2" height="7.399999999999977" fill="#6aab45"/>
<rect x="273.3" y="437" width="14.2" height="7.399999999999977" fill="#6aab45"/>
<rect x="290.6" y="437" width="14.2" height="7.399999999999977" fill="#6aab45"/>
<rect x="308.0" y="437" width="14.2" height="7.399999999999977" fill="#6aab45"/>
<rect x="325.4" y="437" width="14.2" height="7.399999999999977" fill="#6aab45"/>
<rect x="342.8" y="437" width="14.2" height="7.399999999999977" fill="#6aab45"/>
<rect x="360.1" y="437" width="14.2" height="7.399999999999977" fill="#6aab45"/>
<rect x="377.5" y="437" width="14.2" height="7.399999999999977" fill="#6aab45"/>
<rect x="253.5" y="447.6" width="141.0" height="8.399999999999977" fill="#5f9edc"/>
<rect x="434.0" y="412.09999999999997" width="161.39999999999992" height="7.0000000000000115" fill="#cdd6e3" stroke="#8b98ad" stroke-width="0.8"/>
<rect x="433.6" y="424.3" width="162.19999999999993" height="9.0" fill="#f9c09a"/>
<rect x="436.0" y="437.5" width="16.4" height="7.0" fill="#6aab45"/>
<rect x="456.0" y="437.5" width="16.4" height="7.0" fill="#6aab45"/>
<rect x="476.0" y="437.5" width="16.4" height="7.0" fill="#6aab45"/>
<rect x="496.1" y="437.5" width="16.4" height="7.0" fill="#6aab45"/>
<rect x="516.1" y="437.5" width="16.4" height="7.0" fill="#6aab45"/>
<rect x="536.1" y="437.5" width="16.4" height="7.0" fill="#6aab45"/>
<rect x="556.1" y="437.5" width="16.4" height="7.0" fill="#6aab45"/>
<rect x="576.2" y="437.5" width="16.4" height="7.0" fill="#6aab45"/>
<rect x="433.6" y="448.3" width="162.19999999999993" height="8.699999999999989" fill="#5f9edc"/>
<text x="249.5" y="404.3" font-size="9.6" font-weight="normal" text-anchor="end" fill="#262626" stroke="#262626" stroke-width="0.22" textLength="87.2" lengthAdjust="spacingAndGlyphs">Out-cell touch layer</text>
<text x="249.5" y="416.9" font-size="9.6" font-weight="normal" text-anchor="end" fill="#262626" stroke="#262626" stroke-width="0.22" textLength="41.2" lengthAdjust="spacingAndGlyphs">Top Glass</text>
<text x="249.5" y="429.1" font-size="9.6" font-weight="normal" text-anchor="end" fill="#262626" stroke="#262626" stroke-width="0.22" textLength="40.3" lengthAdjust="spacingAndGlyphs">SEG layer</text>
<text x="249.5" y="441.4" font-size="9.6" font-weight="normal" text-anchor="end" fill="#262626" stroke="#262626" stroke-width="0.22" textLength="46.1" lengthAdjust="spacingAndGlyphs">COM layer</text>
<text x="249.5" y="453.8" font-size="9.6" font-weight="normal" text-anchor="end" fill="#262626" stroke="#262626" stroke-width="0.22" textLength="56.6" lengthAdjust="spacingAndGlyphs">Bottom glass</text>
<text x="599.75" y="419.5" font-size="9.6" font-weight="normal" text-anchor="start" fill="#262626" stroke="#262626" stroke-width="0.22" textLength="43" lengthAdjust="spacingAndGlyphs">Top Glass</text>
<text x="599.75" y="432.5" font-size="9.6" font-weight="normal" text-anchor="start" fill="#262626" stroke="#262626" stroke-width="0.22" textLength="42" lengthAdjust="spacingAndGlyphs">SEG layer</text>
<text x="599.75" y="445" font-size="9.6" font-weight="normal" text-anchor="start" fill="#262626" stroke="#262626" stroke-width="0.22" textLength="47.2" lengthAdjust="spacingAndGlyphs">COM layer</text>
<text x="599.75" y="458.2" font-size="9.6" font-weight="normal" text-anchor="start" fill="#262626" stroke="#262626" stroke-width="0.22" textLength="58.5" lengthAdjust="spacingAndGlyphs">Bottom glass</text>
</svg>
</body></html>
